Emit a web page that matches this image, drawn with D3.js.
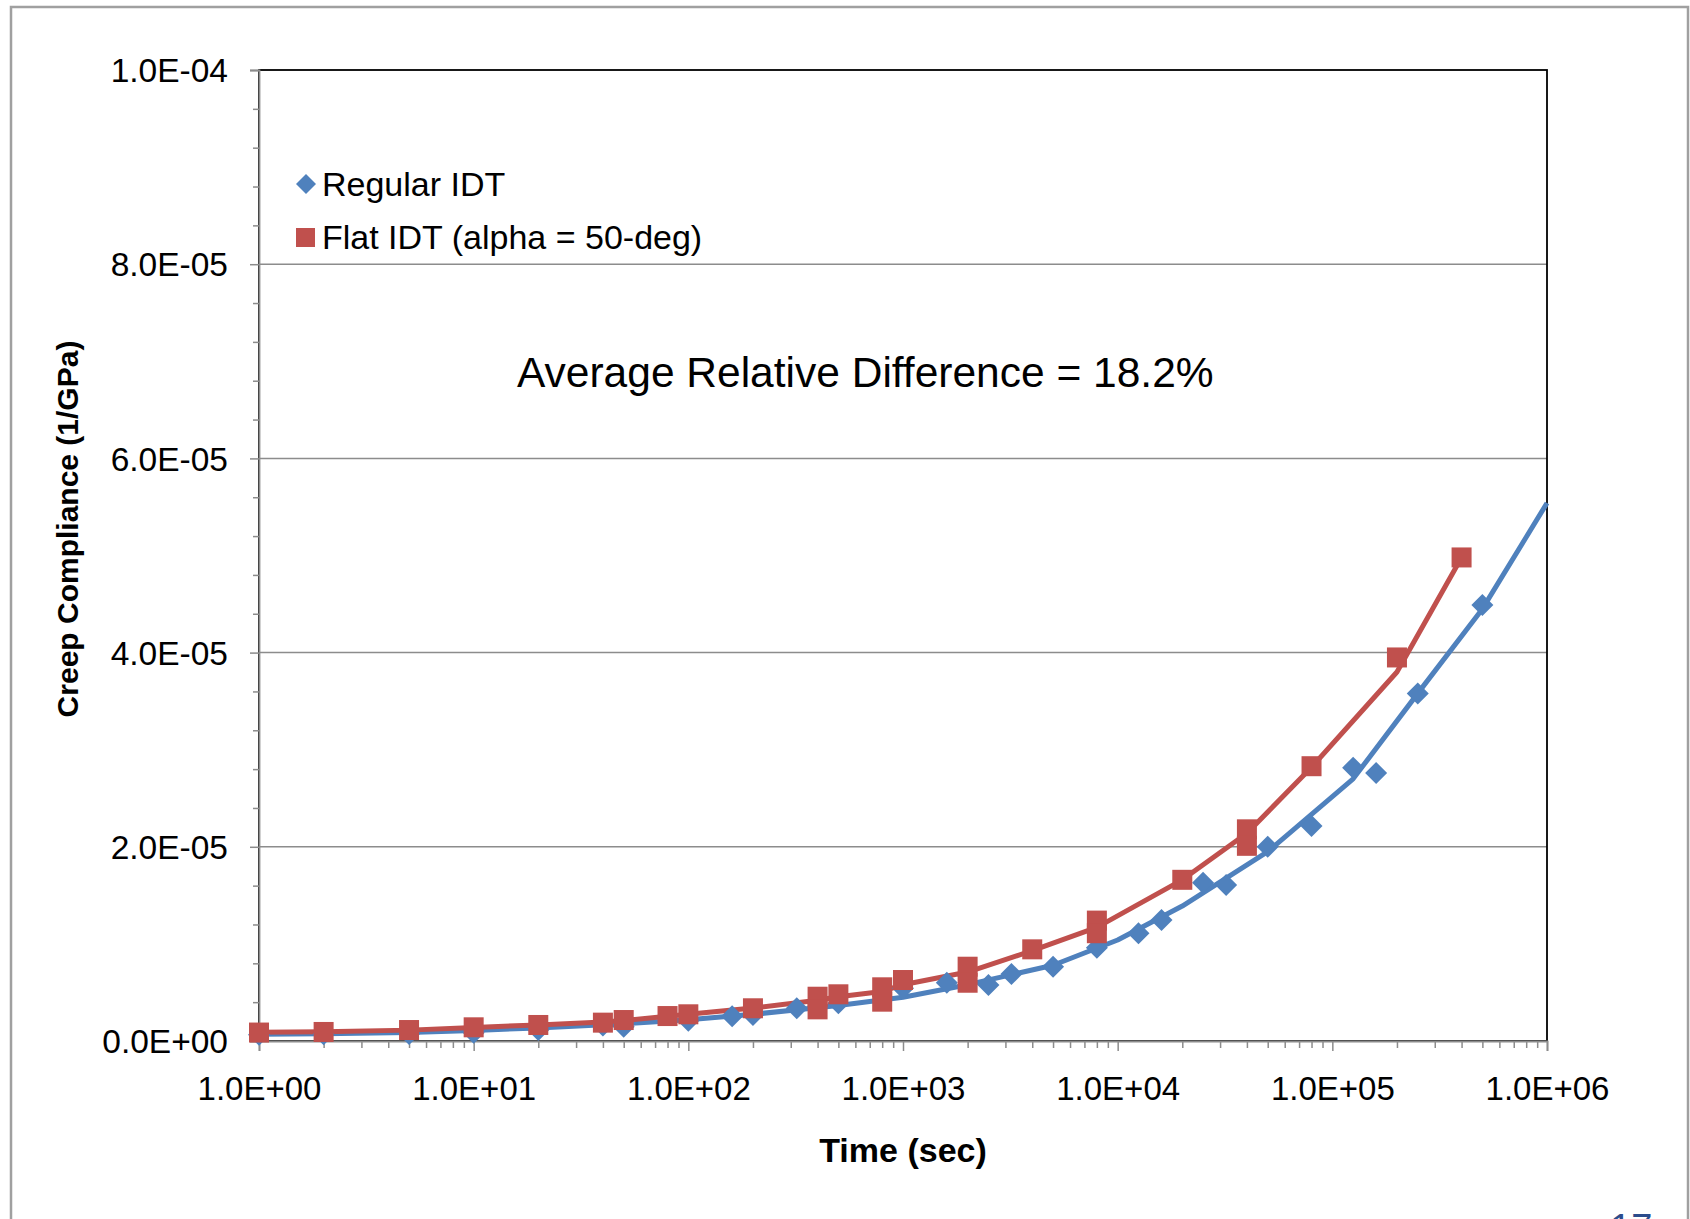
<!DOCTYPE html>
<html>
    <head>
        <meta charset="utf-8">
        <title>Creep compliance</title>
        <style>
            body { margin: 0; background: #fff; }
            text { font-family: "Liberation Sans", Arial, sans-serif; }
        </style>
    </head>
    <body>

        <script type="text/javascript" src="https://d3js.org/d3.v7.min.js"></script>
        <script type="text/javascript">
            // measured points (markers)
            var regularTime = [1, 2, 5, 10, 20, 40, 50, 100, 160, 200, 320, 500, 1000, 1600, 2500, 3200, 5000, 8000,
                12500, 16000, 25000, 32000, 50000, 80000, 125000, 160000, 250000, 500000];
            var regularJ = [0.65e-6, 0.70e-6, 0.72e-6, 0.86e-6, 1.13e-6, 1.60e-6, 1.47e-6, 2.09e-6, 2.55e-6, 2.68e-6, 3.37e-6, 3.88e-6,
                5.43e-6, 6.00e-6, 5.77e-6, 6.90e-6, 7.65e-6, 9.60e-6, 11.1e-6, 12.45e-6, 16.3e-6, 16.07e-6, 20.0e-6,
                22.15e-6, 28.15e-6, 27.6e-6, 35.8e-6, 44.9e-6];

            var flatTime = [1, 2, 5, 10, 20, 40, 50, 80, 100, 200, 400, 400, 500, 800, 800, 1000, 2000, 2000, 4000,
                8000, 8000, 20000, 40000, 40000, 80000, 200000, 400000];
            var flatJ = [0.87e-6, 0.93e-6, 1.13e-6, 1.41e-6, 1.65e-6, 1.89e-6, 2.16e-6, 2.57e-6, 2.75e-6, 3.37e-6, 4.56e-6, 3.26e-6,
                4.81e-6, 5.53e-6, 4.05e-6, 6.28e-6, 7.65e-6, 6.00e-6, 9.44e-6, 12.4e-6, 11.1e-6, 16.6e-6, 21.8e-6,
                20.1e-6, 28.3e-6, 39.5e-6, 49.8e-6];

            // fitted curves (lines only)
            var regularFitTime = [1, 2, 5, 10, 20, 50, 100, 200, 500, 1000, 2000, 5000, 10000, 20000, 50000, 125000,
                250000, 500000, 1000000];
            var regularFitJ = [0.70e-6, 0.75e-6, 0.88e-6, 1.08e-6, 1.35e-6, 1.78e-6, 2.20e-6, 2.75e-6, 3.65e-6, 4.50e-6,
                5.80e-6, 7.80e-6, 10.4e-6, 13.9e-6, 19.5e-6, 27.0e-6, 35.8e-6, 44.5e-6, 55.4e-6];

            var flatFitTime = [1, 2, 5, 10, 20, 40, 50, 80, 100, 200, 400, 500, 800, 1000, 2000, 4000, 8000, 20000,
                40000, 80000, 200000, 400000];
            var flatFitJ = [0.90e-6, 0.95e-6, 1.12e-6, 1.40e-6, 1.66e-6, 1.95e-6, 2.10e-6, 2.55e-6, 2.75e-6, 3.40e-6,
                4.20e-6, 4.55e-6, 5.10e-6, 5.80e-6, 7.10e-6, 9.30e-6, 11.7e-6, 16.6e-6, 21.4e-6, 28.2e-6, 38.0e-6, 49.8e-6];

            var xTicks = [1, 10, 100, 1000, 10000, 100000, 1000000];
            var xTickLabels = ["1.0E+00", "1.0E+01", "1.0E+02", "1.0E+03", "1.0E+04", "1.0E+05", "1.0E+06"];
            var yTicks = [0, 2e-5, 4e-5, 6e-5, 8e-5, 1e-4];
            var yTickLabels = ["0.0E+00", "2.0E-05", "4.0E-05", "6.0E-05", "8.0E-05", "1.0E-04"];

            var seriesNames = ["Regular IDT", "Flat IDT (alpha = 50-deg)"];
            var blue = "#4f81bd", red = "#c0504d";

            var svgWidth = 1690, svgHeight = 1219;
            var plotLeft = 259, plotRight = 1547, plotTop = 70, plotBottom = 1041;

            var svg = d3.select('body')
                .append('svg')
                .attr('width', svgWidth)
                .attr('height', svgHeight);

            svg.append('rect')
                .attr('width', svgWidth)
                .attr('height', svgHeight)
                .attr('fill', '#fff');

            // slide frame
            svg.append('rect')
                .attr('x', 11).attr('y', 7)
                .attr('width', 1677).attr('height', 1300)
                .attr('fill', 'none')
                .attr('stroke', '#a0a0a0')
                .attr('stroke-width', 2.5);

            var xScale = d3.scaleLog()
                .domain([1, 1000000])
                .range([plotLeft, plotRight]);

            var yScale = d3.scaleLinear()
                .domain([0, 1e-4])
                .range([plotBottom, plotTop]);

            // gridlines
            svg.append('g')
                .selectAll('line')
                .data(yTicks.slice(1, -1))
                .enter()
                .append('line')
                .attr('x1', plotLeft).attr('x2', plotRight)
                .attr('y1', function(d){ return yScale(d); })
                .attr('y2', function(d){ return yScale(d); })
                .attr('stroke', '#8c8c8c')
                .attr('stroke-width', 1.5);

            // plot border
            svg.append('rect')
                .attr('x', plotLeft).attr('y', plotTop)
                .attr('width', plotRight - plotLeft).attr('height', plotBottom - plotTop)
                .attr('fill', 'none')
                .attr('stroke', '#000')
                .attr('stroke-width', 1.8);

            // y axis minor ticks
            var yMinor = d3.range(0, 26).map(function(i){ return i * 4e-6; })
                .filter(function(d, i){ return i % 5 != 0; });
            svg.append('g')
                .attr('transform', 'translate(' + plotLeft + ',0)')
                .call(d3.axisLeft(yScale).tickValues(yMinor).tickSize(6).tickFormat(''))
                .call(function(g){
                    g.select('.domain').remove();
                    g.selectAll('line').attr('stroke', '#8c8c8c').attr('stroke-width', 1.5);
                });

            var yAxis = d3.axisLeft(yScale)
                .tickValues(yTicks)
                .tickSize(9)
                .tickPadding(22)
                .tickFormat(function(d, i){ return yTickLabels[i]; });

            svg.append('g')
                .attr('transform', 'translate(' + plotLeft + ',0)')
                .call(yAxis)
                .call(function(g){
                    g.select('.domain').attr('stroke', '#8c8c8c').attr('stroke-width', 1.8);
                    g.selectAll('line').attr('stroke', '#8c8c8c').attr('stroke-width', 1.5);
                    g.selectAll('text')
                        .attr('font-size', 33.5)
                        .attr('fill', '#000')
                        .attr('dy', '0.35em')
                        .style('font-family', '"Liberation Sans", Arial, sans-serif');
                });

            // x axis minor ticks
            var xMinor = [];
            xTicks.slice(0, -1).forEach(function(d){
                for (var k = 2; k <= 9; k++) xMinor.push(d * k);
            });
            svg.append('g')
                .attr('transform', 'translate(0,' + plotBottom + ')')
                .call(d3.axisBottom(xScale).tickValues(xMinor).tickSize(7).tickFormat(''))
                .call(function(g){
                    g.select('.domain').remove();
                    g.selectAll('line').attr('stroke', '#8c8c8c').attr('stroke-width', 1.5);
                });

            var xAxis = d3.axisBottom(xScale)
                .tickValues(xTicks)
                .tickSize(10)
                .tickPadding(26)
                .tickFormat(function(d, i){ return xTickLabels[i]; });

            svg.append('g')
                .attr('transform', 'translate(0,' + plotBottom + ')')
                .call(xAxis)
                .call(function(g){
                    g.select('.domain').attr('stroke', '#8c8c8c').attr('stroke-width', 1.8);
                    g.selectAll('line').attr('stroke', '#8c8c8c').attr('stroke-width', 1.5);
                    g.selectAll('text')
                        .attr('font-size', 33)
                        .attr('fill', '#000')
                        .attr('dy', '0.71em')
                        .style('font-family', '"Liberation Sans", Arial, sans-serif');
                });

            // fitted lines
            var line = d3.line()
                .x(function(d){ return xScale(d[0]); })
                .y(function(d){ return yScale(d[1]); });

            svg.append('path')
                .datum(d3.zip(regularFitTime, regularFitJ))
                .attr('d', line)
                .attr('fill', 'none')
                .attr('stroke', blue)
                .attr('stroke-width', 5)
                .attr('stroke-linejoin', 'round');

            svg.append('path')
                .datum(d3.zip(flatFitTime, flatFitJ))
                .attr('d', line)
                .attr('fill', 'none')
                .attr('stroke', red)
                .attr('stroke-width', 5)
                .attr('stroke-linejoin', 'round');

            // markers
            var diamond = 'M0,-11L11,0L0,11L-11,0Z';

            svg.append('g')
                .selectAll('path')
                .data(d3.zip(regularTime, regularJ))
                .enter()
                .append('path')
                .attr('d', diamond)
                .attr('fill', blue)
                .attr('transform', function(d){
                    return 'translate(' + xScale(d[0]) + ',' + yScale(d[1]) + ')';
                });

            svg.append('g')
                .selectAll('rect')
                .data(d3.zip(flatTime, flatJ))
                .enter()
                .append('rect')
                .attr('x', function(d){ return xScale(d[0]) - 10; })
                .attr('y', function(d){ return yScale(d[1]) - 10; })
                .attr('width', 20)
                .attr('height', 20)
                .attr('fill', red);

            // legend
            svg.append('path')
                .attr('d', 'M0,-10L10,0L0,10L-10,0Z')
                .attr('fill', blue)
                .attr('transform', 'translate(306,184)');
            svg.append('rect')
                .attr('x', 296).attr('y', 228)
                .attr('width', 19).attr('height', 19)
                .attr('fill', red);
            svg.selectAll('.legend')
                .data(seriesNames)
                .enter()
                .append('text')
                .attr('class', 'legend')
                .attr('x', 322)
                .attr('y', function(d, i){ return 196 + i * 53; })
                .attr('font-size', 34)
                .text(function(d){ return d; });

            svg.append('text')
                .attr('x', 517)
                .attr('y', 387)
                .attr('font-size', 42.5)
                .text('Average Relative Difference = 18.2%');

            // axis titles
            svg.append('text')
                .attr('transform', 'translate(78,529) rotate(-90)')
                .attr('text-anchor', 'middle')
                .attr('font-size', 30)
                .attr('font-weight', 'bold')
                .text('Creep Compliance (1/GPa)');

            svg.append('text')
                .attr('x', 903)
                .attr('y', 1162)
                .attr('text-anchor', 'middle')
                .attr('font-size', 34)
                .attr('font-weight', 'bold')
                .text('Time (sec)');

            // slide number, cut off at the bottom
            svg.append('text')
                .attr('x', 1610)
                .attr('y', 1241)
                .attr('font-size', 38)
                .attr('fill', '#2b4c8c')
                .text('17');

        </script>
        
    </body>
</html>
